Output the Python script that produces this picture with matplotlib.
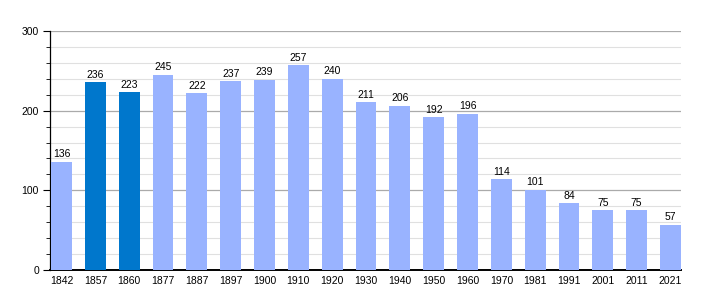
import matplotlib.pyplot as plt
import numpy as np
from matplotlib.ticker import MultipleLocator

years = ["1842", "1857", "1860", "1877", "1887", "1897", "1900", "1910", "1920", "1930",
         "1940", "1950", "1960", "1970", "1981", "1991", "2001", "2011", "2021"]
population = [136, 236, 223, 245, 222, 237, 239, 257, 240, 211,
              206, 192, 196, 114, 101, 84, 75, 75, 57]
highlight = ["1857", "1860"]

plt.rcParams["font.family"] = ["Liberation Sans", "DejaVu Sans"]

fig = plt.figure(figsize=(7.1, 3.0), dpi=100)
ax = fig.add_axes([50 / 710, 30 / 300, 631 / 710, 239 / 300])

x = np.arange(len(years))
w = 0.62
colors = ["#0077cc" if y in highlight else "#99b3ff" for y in years]
ax.bar(x, population, width=w, color=colors, zorder=3)
for xi, v in zip(x, population):
    ax.text(xi, v + 3, str(v), ha="center", va="bottom", fontsize=7.5, zorder=4)

ax.set_xlim(-w / 2 - 0.03, len(years) - 1 + w / 2)
ax.set_ylim(0, 300)
ax.set_xticks(x)
ax.set_xticklabels(years)
ax.yaxis.set_major_locator(MultipleLocator(100))
ax.yaxis.set_minor_locator(MultipleLocator(20))
ax.grid(axis="y", which="major", color="#aaaaaa", linewidth=0.9, zorder=0)
ax.grid(axis="y", which="minor", color="#e0e0e0", linewidth=0.8, zorder=0)
ax.tick_params(axis="x", length=0, labelsize=7.5, pad=4)
ax.tick_params(axis="y", which="major", length=5, labelsize=7.5, pad=3)
ax.tick_params(axis="y", which="minor", length=3)
for s in ["top", "right"]:
    ax.spines[s].set_visible(False)
ax.spines["left"].set_linewidth(0.9)
ax.spines["bottom"].set_linewidth(1.4)

plt.savefig("out.png", dpi=100)
plt.close()
